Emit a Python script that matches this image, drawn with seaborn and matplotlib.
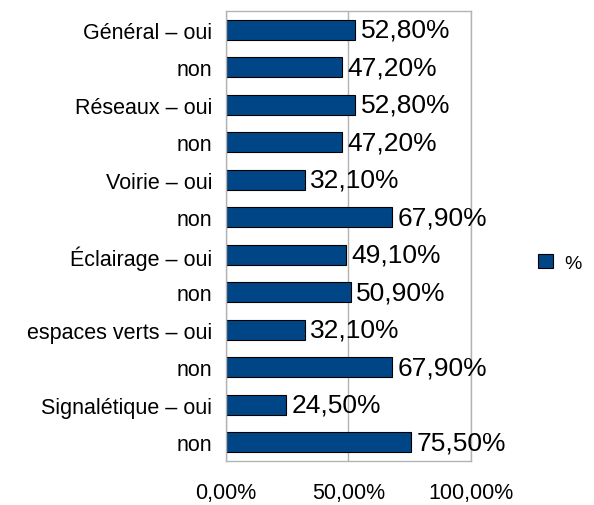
import matplotlib
matplotlib.use("Agg")
import matplotlib.pyplot as plt
import seaborn as sns
import pandas as pd

labels = ["Général – oui", "non", "Réseaux – oui", "non", "Voirie – oui", "non",
          "Éclairage – oui", "non", "espaces verts – oui", "non", "Signalétique – oui", "non"]
values = [52.8, 47.2, 52.8, 47.2, 32.1, 67.9, 49.1, 50.9, 32.1, 67.9, 24.5, 75.5]
xticks = [0, 50, 100]

sns.set_style("white")
plt.rcParams['font.family'] = ['Liberation Sans', 'DejaVu Sans']
plt.rcParams['text.color'] = 'black'
plt.rcParams['xtick.color'] = 'black'
plt.rcParams['ytick.color'] = 'black'

d = pd.DataFrame({"pos": [str(i) for i in range(len(labels))], "val": values})

fig = plt.figure(figsize=(5.94, 5.06), dpi=100)
ax = fig.add_axes([0.3805, 0.087, 0.7929 - 0.3805, 0.976 - 0.087])

sns.barplot(data=d, x="val", y="pos", orient="h", color="#004586",
            edgecolor="black", linewidth=0.8, width=0.53, saturation=1,
            label="%", ax=ax)

ax.set_xlim(0, 100)
ax.set_xticks(xticks)
ax.set_xticklabels([f"{v:.2f}%".replace(".", ",") for v in xticks], fontsize=15.5)
ax.set_yticks(range(len(labels)))
ax.set_yticklabels(labels, fontsize=15.5)
ax.set_xlabel("")
ax.set_ylabel("")
ax.grid(axis="x", color="#b3b3b3", linewidth=1)
ax.set_axisbelow(True)
for s in ax.spines.values():
    s.set_color("#b3b3b3")
    s.set_linewidth(1)
ax.tick_params(axis="both", length=7, color="#b3b3b3", labelcolor="black", width=1, pad=3)
ax.tick_params(axis="x", pad=8)

ax.bar_label(ax.containers[0], labels=[f"{v:.2f}%".replace(".", ",") for v in values],
             padding=4, fontsize=19, color="black")

fig.legend(handles=ax.containers[0].patches[:1], labels=["%"], loc="center left",
           bbox_to_anchor=(0.877, 0.478), frameon=False, fontsize=14,
           handlelength=0.75, handleheight=0.75, handletextpad=0.6)
if ax.get_legend():
    ax.get_legend().remove()

fig.savefig("out.png", dpi=100)
